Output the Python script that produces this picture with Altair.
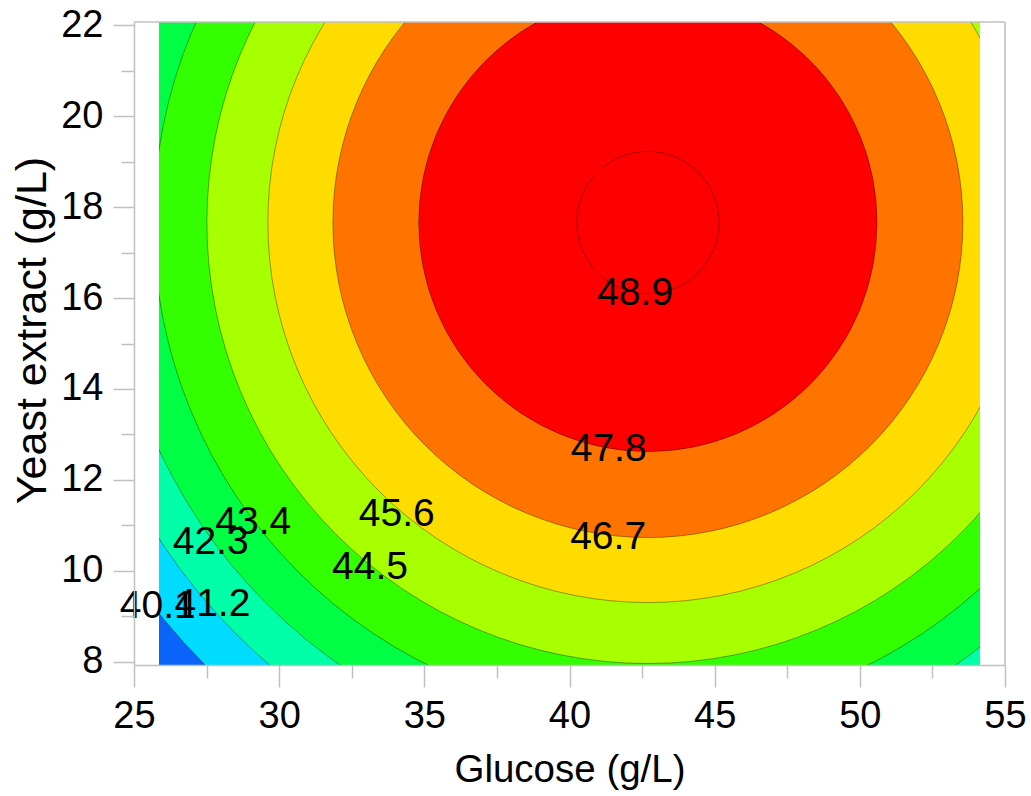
import math
import altair as alt
import pandas as pd

# ---- data ----
# contour levels and the radius of each contour circle, expressed in glucose-axis units
levels = [40.1, 41.2, 42.3, 43.4, 44.5, 45.6, 46.7, 47.8, 48.9]
radii = [21.56, 20.05, 18.57, 17.02, 15.19, 13.09, 10.85, 7.89, 2.45]
# fill of the region inside each contour
fills = ["#00dcff", "#00ffa8", "#00ff44", "#33ff00", "#a8ff00",
         "#ffdc00", "#ff7300", "#ff0000", "#ff0000"]
outer_fill = "#0a64fa"

# optimum (centre of the contours)
center_glucose = 42.70
center_yeast = 17.66

# experimental region and axis extent
glucose_region = [25.86, 54.14]
glucose_axis = [25, 55]
yeast_region = [7.93, 22.07]

# contour labels (position of each label)
label_text = ["40.1", "41.2", "42.3", "43.4", "44.5", "45.6", "46.7", "47.8", "48.9"]
label_glucose = [25.82, 27.70, 27.64, 29.11, 33.13, 34.05, 41.33, 41.35, 42.26]
label_yeast = [9.23, 9.27, 10.64, 11.07, 10.09, 11.25, 10.74, 12.69, 16.12]

x_ticks = [25, 27.5, 30, 32.5, 35, 37.5, 40, 42.5, 45, 47.5, 50, 52.5, 55]
y_ticks = list(range(8, 23))

# ---- chart ----
W, H = 871, 643
FONT = "Liberation Sans"
AXIS_GRAY = "#c0c0c0"

xs = alt.Scale(domain=glucose_axis, nice=False, zero=False)
ys = alt.Scale(domain=yeast_region, nice=False, zero=False)

x_axis = alt.Axis(
    values=x_ticks,
    tickSize={"condition": {"test": "datum.value % 5 === 0", "value": 22}, "value": 13},
    labelExpr="datum.value % 5 === 0 ? datum.label : ''",
    labelOverlap=False, labelFlush=False,
    labelFont=FONT, labelFontSize=38, labelColor="black", labelPadding=10,
    titleFont=FONT, titleFontSize=38.5, titleColor="black", titleFontWeight="normal",
    titlePadding=16,
    domainColor=AXIS_GRAY, domainWidth=1.5, tickColor=AXIS_GRAY, tickWidth=1.5,
    grid=False, zindex=1,
)
y_axis = alt.Axis(
    values=y_ticks,
    tickSize={"condition": {"test": "datum.value % 2 === 0", "value": 21}, "value": 13},
    labelExpr="datum.value % 2 === 0 ? datum.label : ''",
    labelOverlap=False, labelFlush=False,
    labelFont=FONT, labelFontSize=38, labelColor="black", labelPadding=10,
    titleFont=FONT, titleFontSize=43, titleColor="black", titleFontWeight="normal",
    titlePadding=6, titleY=308,
    domainColor=AXIS_GRAY, domainWidth=1.5, tickColor=AXIS_GRAY, tickWidth=1.5,
    grid=False, zindex=1,
)

X = alt.X("glucose:Q", scale=xs, axis=x_axis, title="Glucose (g/L)")
Y = alt.Y("yeast:Q", scale=ys, axis=y_axis, title="Yeast extract (g/L)")

region_df = pd.DataFrame({
    "glucose": [glucose_region[0]], "glucose2": [glucose_region[1]],
    "yeast": [yeast_region[0]], "yeast2": [yeast_region[1]],
})
region = alt.Chart(region_df).mark_rect(color=outer_fill).encode(
    x=X, x2="glucose2:Q", y=Y, y2="yeast2:Q"
)

arcs_df = pd.DataFrame({
    "glucose": [center_glucose] * len(levels),
    "yeast": [center_yeast] * len(levels),
    "r": radii,
    "level": [str(v) for v in levels],
})
arcs = alt.Chart(arcs_df).mark_arc(
    clip=True, theta=0, theta2=math.tau,
    stroke="#000000", strokeWidth=0.8, strokeOpacity=0.45,
).encode(
    x=X, y=Y,
    radius=alt.Radius("r:Q", stack=None,
                      scale=alt.Scale(type="linear", domain=[0, 30], range=[0, W])),
    fill=alt.Fill("level:N", scale=alt.Scale(domain=[str(v) for v in levels], range=fills),
                  legend=None),
)

mask_df = pd.DataFrame({
    "glucose": [glucose_axis[0], glucose_region[1]],
    "glucose2": [glucose_region[0], glucose_axis[1]],
    "yeast": [yeast_region[0]] * 2,
    "yeast2": [yeast_region[1]] * 2,
})
mask = alt.Chart(mask_df).mark_rect(color="white").encode(
    x=X, x2="glucose2:Q", y=Y, y2="yeast2:Q"
)

frame_df = pd.DataFrame({
    "glucose": [glucose_axis[1], glucose_axis[0]],
    "glucose2": [glucose_axis[1], glucose_axis[1]],
    "yeast": [yeast_region[0], yeast_region[1]],
    "yeast2": [yeast_region[1], yeast_region[1]],
})
frame = alt.Chart(frame_df).mark_rule(color=AXIS_GRAY, strokeWidth=1.5).encode(
    x=X, x2="glucose2:Q", y=Y, y2="yeast2:Q"
)

labels_df = pd.DataFrame({"glucose": label_glucose, "yeast": label_yeast, "text": label_text})
labels = alt.Chart(labels_df).mark_text(
    font=FONT, fontSize=39, color="black", align="center", baseline="middle"
).encode(x=X, y=Y, text="text:N")

chart = alt.layer(region, arcs, mask, frame, labels).properties(
    width=W, height=H,
    autosize=alt.AutoSizeParams(type="none"),
    padding={"left": 134, "top": 22, "right": 26, "bottom": 131},
).configure_view(stroke=None).configure(background="white")

chart.save("out.html", embed_options={"renderer": "svg", "actions": False})
